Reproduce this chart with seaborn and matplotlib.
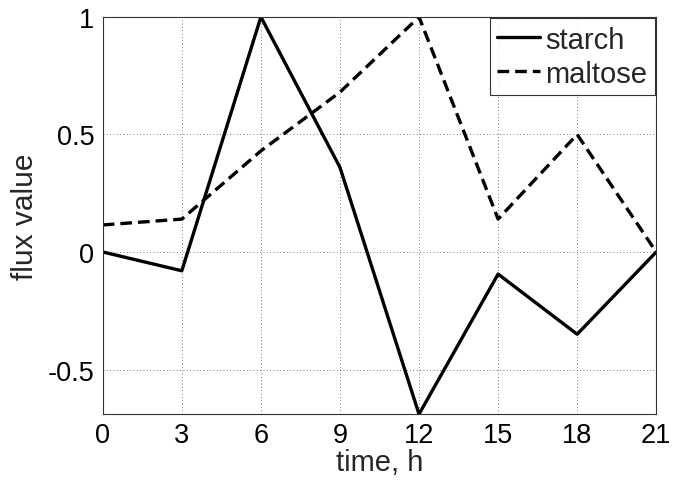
import numpy as np
import pandas as pd
import matplotlib
matplotlib.use("Agg")
import matplotlib.pyplot as plt
import seaborn as sns

# data
time_h = [0, 3, 6, 9, 12, 15, 18, 21]
starch = [0.0, -0.08, 1.0, 0.36, -0.69, -0.094, -0.35, 0.0]
maltose = [0.115, 0.14, 0.43, 0.68, 1.0, 0.14, 0.5, 0.0]
series_names = ["starch", "maltose"]

df = pd.DataFrame({
    "time": time_h * 2,
    "flux": starch + maltose,
    "series": [series_names[0]] * len(time_h) + [series_names[1]] * len(time_h),
})

sns.set_style("white")
plt.rcParams["font.family"] = ["Liberation Sans", "DejaVu Sans"]

fig = plt.figure(figsize=(6.85, 4.85), dpi=100)
ax = fig.add_axes([0.150, 0.144, 0.808, 0.819])

sns.lineplot(data=df, x="time", y="flux", style="series", color="black",
             dashes={"starch": "", "maltose": (3.5, 1.8)}, linewidth=2.4,
             ax=ax, legend=False)

ax.set_xlim(0, 21)
ax.set_ylim(-0.69, 1.0)
ax.set_xticks(time_h)
ax.set_xticklabels([str(t) for t in time_h])
ax.set_yticks([-0.5, 0, 0.5, 1])
ax.set_yticklabels(["-0.5", "0", "0.5", "1"])
ax.tick_params(direction="in", length=4, labelsize=19.5, colors="black", pad=6)
ax.grid(True, linestyle=(0, (1, 3)), color="black", linewidth=0.6, alpha=0.7)
for s in ax.spines.values():
    s.set_color("#333333")
    s.set_linewidth(0.8)

ax.set_xlabel("time, h", fontsize=21, labelpad=0)
ax.set_ylabel("flux value", fontsize=21.5, labelpad=6)

handles = ax.get_lines()[:2]
leg = ax.legend(handles, series_names, loc="upper right", fontsize=21,
                frameon=True, fancybox=False, edgecolor="black",
                borderaxespad=0.05, handlelength=1.45, handletextpad=0.2,
                borderpad=0.25, labelspacing=0.2)
leg.get_frame().set_linewidth(0.8)

fig.savefig("out.png", dpi=100)
